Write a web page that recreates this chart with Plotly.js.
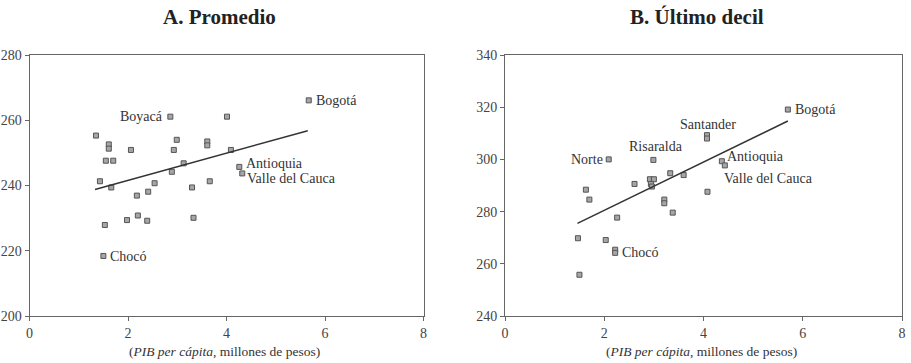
<!DOCTYPE html>
<html>
<head>
<meta charset="utf-8">
<script src="https://cdn.plot.ly/plotly-3.0.1.min.js"></script>
<style>html,body{margin:0;padding:0;background:#fff}#chart{width:911px;height:363px}</style>
</head>
<body>
<div id="chart"></div>
<script>
// ---- Panel A: Promedio ----
const aX = [1.35,1.43,1.61,1.61,1.55,1.70,1.66,2.06,2.18,2.41,2.54,2.86,2.89,2.93,2.99,3.13,3.30,3.61,3.61,3.66,4.01,4.09,5.67,4.26,4.32,1.53,1.98,2.20,2.39,3.33,1.50];
const aY = [255.3,241.3,252.6,251.3,247.6,247.6,239.4,250.9,236.9,238.1,240.7,261.1,244.2,250.9,254.0,246.8,239.4,253.5,252.3,241.3,261.1,250.9,266.1,245.7,243.7,227.9,229.4,230.8,229.2,230.1,218.4];
const aNames = ["","","","","","","","","","","","Boyacá","","","","","","","","","","","Bogotá","Antioquia","Valle del Cauca","","","","","","Chocó"];
const aFitX = [1.33,5.65];
const aFitY = [238.8,256.8];

// ---- Panel B: Último decil ----
const bX = [2.09,2.99,1.63,1.70,2.61,2.92,3.00,2.94,2.96,3.33,3.60,3.21,3.21,3.38,1.47,1.50,2.03,2.26,2.22,2.22,4.07,4.07,5.70,4.37,4.43,4.08];
const bY = [300.0,299.8,288.4,284.6,290.6,292.4,292.4,290.6,289.6,294.7,294.0,284.6,283.2,279.6,269.8,255.8,269.1,277.7,265.4,264.2,309.3,308.0,319.1,299.3,297.7,287.6];
const bNames = ["Norte","Risaralda","","","","","","","","","","","","","","","","","","Chocó","","Santander","Bogotá","Antioquia","Valle del Cauca",""];
const bFitX = [1.46,5.70];
const bFitY = [275.5,314.7];

const xTicks = [0,2,4,6,8];
const aYTicks = [200,220,240,260,280];
const bYTicks = [240,260,280,300,320,340];
const titles = ["<b>A. Promedio</b>","<b>B. Último decil</b>"];
const xTitle = "(<i>PIB per cápita</i>, millones de pesos)";

// label placement (style only)
const place = {
  A: {"Boyacá":{xa:"right",xs:-5,ys:0},"Bogotá":{xa:"left",xs:5,ys:0},"Antioquia":{xa:"left",xs:5,ys:3},
      "Valle del Cauca":{xa:"left",xs:3,ys:-5},"Chocó":{xa:"left",xs:5,ys:-1}},
  B: {"Norte":{xa:"right",xs:-4,ys:0},"Risaralda":{xa:"center",xs:3,ys:13},"Santander":{xa:"center",xs:1,ys:14},
      "Bogotá":{xa:"left",xs:5,ys:0},"Antioquia":{xa:"left",xs:3,ys:5},"Valle del Cauca":{xa:"left",xs:-3,ys:-13},
      "Chocó":{xa:"left",xs:5,ys:0}}
};

const FONT = "Liberation Serif";
const TXT = "#333";
const marker = {symbol:"square", size:5, color:"#a6a6a6", line:{color:"#555", width:1}};

const traces = [
  {x:aX, y:aY, type:"scatter", mode:"markers", marker:marker, xaxis:"x", yaxis:"y", hoverinfo:"skip"},
  {x:aFitX, y:aFitY, type:"scatter", mode:"lines", line:{color:"#333", width:1.5}, xaxis:"x", yaxis:"y", hoverinfo:"skip"},
  {x:bX, y:bY, type:"scatter", mode:"markers", marker:marker, xaxis:"x2", yaxis:"y2", hoverinfo:"skip"},
  {x:bFitX, y:bFitY, type:"scatter", mode:"lines", line:{color:"#333", width:1.5}, xaxis:"x2", yaxis:"y2", hoverinfo:"skip"}
];

const annotations = [];
function addLabels(xs, ys, names, xr, yr, pl){
  names.forEach((n,i)=>{
    if(!n) return;
    const p = pl[n];
    annotations.push({x:xs[i], y:ys[i], xref:xr, yref:yr, text:n, showarrow:false,
      xanchor:p.xa, yanchor:"middle", xshift:p.xs, yshift:p.ys,
      font:{family:FONT, size:14, color:TXT}});
  });
}
addLabels(aX,aY,aNames,"x","y",place.A);
addLabels(bX,bY,bNames,"x2","y2",place.B);

const domA = [29.5/911, 423.5/911];
const domB = [505/911, 902/911];
const domY = [47/363, 308/363];
const titleX = [219/911, 697/911];

[[domA,titles[0],titleX[0]],[domB,titles[1],titleX[1]]].forEach(([d,t,tx])=>{
  annotations.push({x:tx, y:(363-17)/363, xref:"paper", yref:"paper", text:t, showarrow:false,
    xanchor:"center", yanchor:"middle", font:{family:FONT, size:21, color:"#222"}});
  annotations.push({x:(d[0]+d[1])/2 - 2/911, y:(363-351)/363, xref:"paper", yref:"paper", text:xTitle, showarrow:false,
    xanchor:"center", yanchor:"middle", font:{family:FONT, size:13.5, color:TXT}});
});

const axBase = {showgrid:false, zeroline:false, showline:true, mirror:true, linecolor:"#666", linewidth:1,
  ticks:"outside", ticklen:4, tickcolor:"#666", tickfont:{family:FONT, size:14, color:"#444"}, fixedrange:true};

const layout = {
  width:911, height:363, margin:{l:0,r:0,t:0,b:0}, showlegend:false,
  paper_bgcolor:"#fff", plot_bgcolor:"#fff",
  font:{family:FONT},
  xaxis: Object.assign({}, axBase, {domain:domA, range:[0,8], tickvals:xTicks, anchor:"y"}),
  yaxis: Object.assign({}, axBase, {domain:domY, range:[200,280], tickvals:aYTicks, anchor:"x"}),
  xaxis2: Object.assign({}, axBase, {domain:domB, range:[0,8], tickvals:xTicks, anchor:"y2"}),
  yaxis2: Object.assign({}, axBase, {domain:domY, range:[240,340], tickvals:bYTicks, anchor:"x2"}),
  annotations: annotations
};

Plotly.newPlot("chart", traces, layout, {displayModeBar:false, staticPlot:true});
</script>
</body>
</html>
